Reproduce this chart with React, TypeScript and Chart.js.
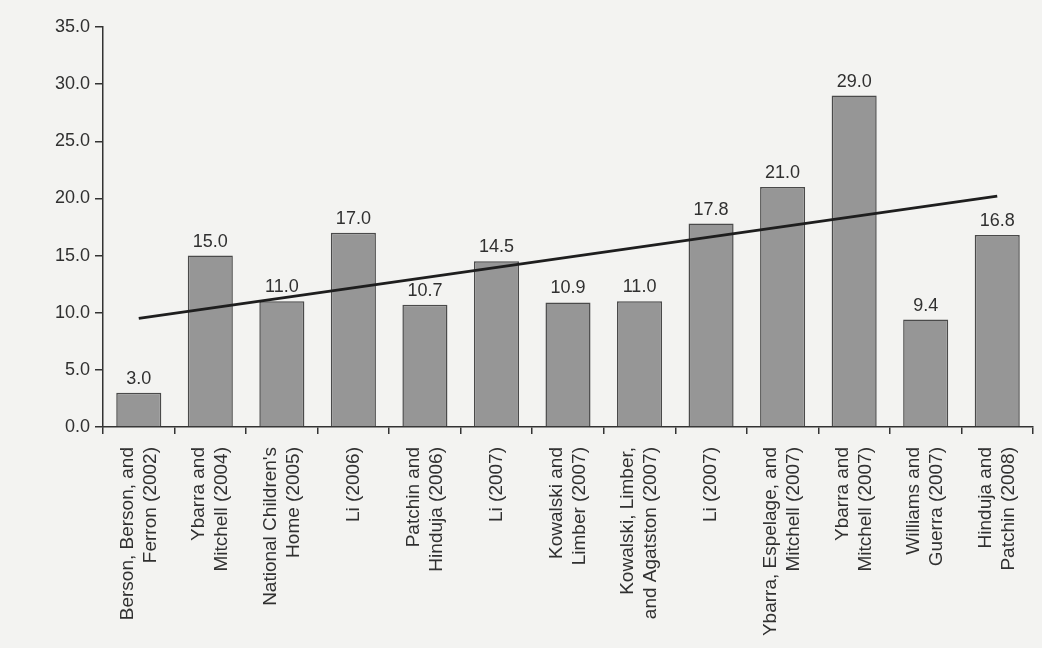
import React, { useEffect, useRef } from "react";
import { Chart, registerables } from "chart.js";

Chart.register(...registerables);

const categories: string[][] = [
  ["Berson, Berson, and", "Ferron (2002)"],
  ["Ybarra and", "Mitchell (2004)"],
  ["National Children's", "Home (2005)"],
  ["Li (2006)"],
  ["Patchin and", "Hinduja (2006)"],
  ["Li (2007)"],
  ["Kowalski and", "Limber (2007)"],
  ["Kowalski, Limber,", "and Agatston (2007)"],
  ["Li (2007)"],
  ["Ybarra, Espelage, and", "Mitchell (2007)"],
  ["Ybarra and", "Mitchell (2007)"],
  ["Williams and", "Guerra (2007)"],
  ["Hinduja and", "Patchin (2008)"],
];

const values: number[] = [3.0, 15.0, 11.0, 17.0, 10.7, 14.5, 10.9, 11.0, 17.8, 21.0, 29.0, 9.4, 16.8];

const trendValues: (number | null)[] = [9.5, null, null, null, null, null, null, null, null, null, null, null, 20.2];

const yTicks: number[] = [0, 5, 10, 15, 20, 25, 30, 35];

const FONT = "'Liberation Sans', Arial, Helvetica, sans-serif";
const TEXT = "#303030";

const valueLabelPlugin = {
  id: "valueLabels",
  afterDatasetsDraw(chart: any) {
    const idx = chart.data.datasets.findIndex((d: any) => d.type === "bar");
    const meta = chart.getDatasetMeta(idx);
    const ctx = chart.ctx;
    ctx.save();
    ctx.font = `18px ${FONT}`;
    ctx.fillStyle = TEXT;
    ctx.textAlign = "center";
    ctx.textBaseline = "bottom";
    meta.data.forEach((bar: any, i: number) => {
      ctx.fillText(values[i].toFixed(1), bar.x, bar.y - 5);
    });
    ctx.restore();
  },
};

const xLabelPlugin = {
  id: "xLabels",
  afterDraw(chart: any) {
    const scale = chart.scales.x;
    const ctx = chart.ctx;
    const lh = 23;
    ctx.save();
    ctx.font = `19px ${FONT}`;
    ctx.fillStyle = TEXT;
    ctx.textAlign = "right";
    ctx.textBaseline = "middle";
    categories.forEach((lines, i) => {
      const x = scale.getPixelForTick(i);
      const y = scale.top + 20;
      ctx.save();
      ctx.translate(x, y);
      ctx.rotate(-Math.PI / 2);
      const n = lines.length;
      lines.forEach((line, j) => {
        ctx.fillText(line, 0, (j - (n - 1) / 2) * lh);
      });
      ctx.restore();
    });
    ctx.restore();
  },
};

const bgPlugin = {
  id: "bg",
  beforeDraw(chart: any) {
    const ctx = chart.ctx;
    ctx.save();
    ctx.fillStyle = "#f3f3f1";
    ctx.fillRect(0, 0, chart.width, chart.height);
    ctx.restore();
  },
};

export default function App() {
  const ref = useRef<HTMLCanvasElement | null>(null);

  useEffect(() => {
    if (!ref.current) return;
    const chart = new Chart(ref.current, {
      type: "bar",
      data: {
        labels: categories.map((c) => c.join(" ")),
        datasets: [
          {
            type: "bar",
            data: values,
            backgroundColor: "#969696",
            borderColor: "#4a4a4a",
            borderWidth: 1.5,
            categoryPercentage: 1,
            barPercentage: 0.63,
            order: 1,
          } as any,
          {
            type: "line",
            data: trendValues,
            borderColor: "#1e1e1e",
            borderWidth: 2.8,
            pointRadius: 0,
            spanGaps: true,
            fill: false,
            order: 0,
          } as any,
        ],
      },
      options: {
        animation: false,
        responsive: false,
        maintainAspectRatio: false,
        layout: { padding: { top: 27, right: 9, left: 0, bottom: 0 } },
        plugins: {
          legend: { display: false },
          tooltip: { enabled: false },
          title: { display: false },
        },
        scales: {
          x: {
            offset: true,
            grid: {
              offset: true,
              drawOnChartArea: false,
              drawTicks: true,
              tickLength: 7,
              color: "#333333",
              lineWidth: 1.5,
            },
            border: { display: true, color: "#333333", width: 1.5 },
            ticks: { display: false },
            afterFit(scale: any) {
              scale.height = 221;
            },
          },
          y: {
            min: 0,
            max: 35,
            afterBuildTicks(scale: any) {
              scale.ticks = yTicks.map((v) => ({ value: v }));
            },
            grid: {
              drawOnChartArea: false,
              drawTicks: true,
              tickLength: 8,
              color: "#333333",
              lineWidth: 1.5,
            },
            border: { display: true, color: "#333333", width: 1.5 },
            ticks: {
              color: TEXT,
              font: { family: FONT, size: 18 },
              padding: 5,
              callback: (v: any) => Number(v).toFixed(1),
            },
            afterFit(scale: any) {
              scale.width = 103;
            },
          },
        },
      } as any,
      plugins: [bgPlugin, valueLabelPlugin, xLabelPlugin],
    });
    return () => chart.destroy();
  }, []);

  return (
    <div style={{ position: "fixed", left: 0, top: 0, width: 1042, height: 648, background: "#f3f3f1" }}>
      <canvas ref={ref} width={1042} height={648} style={{ width: 1042, height: 648, display: "block" }} />
    </div>
  );
}
